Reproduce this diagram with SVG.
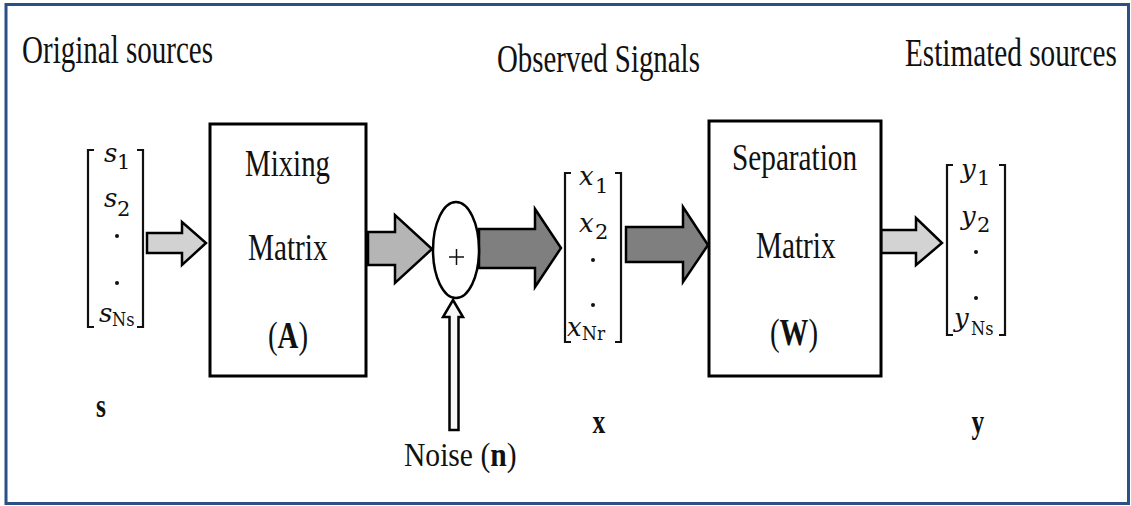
<svg xmlns="http://www.w3.org/2000/svg" width="1131" height="506" viewBox="0 0 1131 506">
<style>
.t{font-family:"Liberation Serif","Times New Roman",serif;fill:#111}
.ti{font-family:"Liberation Serif","Times New Roman",serif;fill:#111;font-size:40px}
.bx{font-family:"Liberation Serif","Times New Roman",serif;fill:#111;font-size:38px}
.bl{font-family:"Liberation Serif","Times New Roman",serif;fill:#111;font-size:34px;font-weight:bold}
.v{font-family:"DejaVu Serif",serif;font-style:italic;fill:#111;font-size:26px}
.sb{font-family:"DejaVu Serif",serif;fill:#111;font-size:21px}
.sn{font-family:"DejaVu Serif",serif;fill:#111;font-size:18px}
.box{fill:#fff;stroke:#000;stroke-width:3}
.br{fill:none;stroke:#111;stroke-width:2.2}
.ar{stroke:#000;stroke-width:2.5;stroke-linejoin:miter}
.dot{fill:#111}
</style>
<rect x="0" y="0" width="1131" height="506" fill="#fff"/>
<rect x="6" y="4.5" width="1122.5" height="499" fill="none" stroke="#2c4f86" stroke-width="3"/>

<g id="titles">
<text class="ti" transform="translate(22,63) scale(0.726,1)">Original sources</text>
<text class="ti" transform="translate(497,72) scale(0.722,1)">Observed Signals</text>
<text class="ti" transform="translate(905,66) scale(0.731,1)">Estimated sources</text>
</g>

<g id="connectors">
<polygon class="ar" fill="#d2d2d2" points="147,233 182,233 182,222 206,243 182,265 182,253 147,253"/>
<polygon class="ar" fill="#b5b5b5" points="368,232 395,232 395,215 432,249 395,283 395,265 368,265"/>
<polygon class="ar" fill="#7f7f7f" points="479,229 535,229 535,209 561,248 535,287 535,268 479,268"/>
<polygon class="ar" fill="#7f7f7f" points="626,227 683,227 683,207 708,245 683,282 683,262 626,262"/>
<polygon class="ar" fill="#d3d3d3" points="881,230 916,230 916,218 942,243 916,265 916,253 881,253"/>
<polygon class="ar" fill="#f7f7f7" stroke-width="2" points="453,300 463,317 458.5,317 458.5,430 449.5,430 449.5,317 443,317"/>
</g>

<g id="s-vector">
<path class="br" d="M94,150 H88 V327 H94 M137,150 H143 V327 H137"/>
<text class="v" x="104" y="162">s</text><text class="sb" x="117" y="169">1</text>
<text class="v" x="104" y="207">s</text><text class="sb" x="117" y="216">2</text>
<circle class="dot" cx="117" cy="236" r="2"/>
<circle class="dot" cx="117" cy="283" r="2"/>
<text class="v" x="99" y="322">s</text><text class="sn" transform="translate(112,326) scale(0.9,1)">Ns</text>
<text class="bl" transform="translate(101,417) scale(0.75,1)" text-anchor="middle">s</text>
</g>

<g id="mixing">
<rect class="box" x="210" y="124" width="156" height="252"/>
<text class="bx" transform="translate(245,176) scale(0.76,1)">Mixing</text>
<text class="bx" transform="translate(248,260) scale(0.77,1)">Matrix</text>
<text class="bx" transform="translate(268,348) scale(0.76,1)">(<tspan font-weight="bold">A</tspan>)</text>
</g>

<g id="sum">
<ellipse cx="456" cy="250" rx="23" ry="48" fill="#fff" stroke="#000" stroke-width="2.5"/>
<path d="M449,257 H464 M456.5,249 V265" stroke="#111" stroke-width="1.5" fill="none"/>
</g>

<g id="noise">
<text class="t" font-size="34" transform="translate(404,466) scale(0.87,1)">Noise (<tspan font-weight="bold">n</tspan>)</text>
</g>

<g id="x-vector">
<path class="br" d="M571,173 H565 V342 H571 M615,173 H621 V342 H615"/>
<text class="v" x="579" y="185">x</text><text class="sb" x="595" y="193">1</text>
<text class="v" x="579" y="232">x</text><text class="sb" x="595" y="239">2</text>
<circle class="dot" cx="593" cy="260" r="2"/>
<circle class="dot" cx="593" cy="305" r="2"/>
<text class="v" x="567" y="336">x</text><text class="sn" transform="translate(582,340) scale(0.95,1)">Nr</text>
<text class="bl" transform="translate(599,433) scale(0.75,1)" text-anchor="middle">x</text>
</g>

<g id="separation">
<rect class="box" x="709" y="121" width="172" height="255"/>
<text class="bx" transform="translate(732,170) scale(0.77,1)">Separation</text>
<text class="bx" transform="translate(756,258) scale(0.77,1)">Matrix</text>
<text class="bx" transform="translate(770,345) scale(0.76,1)">(<tspan font-weight="bold">W</tspan>)</text>
</g>

<g id="y-vector">
<path class="br" d="M953,165 H947 V335 H953 M999,165 H1005 V335 H999"/>
<text class="v" x="961" y="178">y</text><text class="sb" x="977" y="185">1</text>
<text class="v" x="961" y="225">y</text><text class="sb" x="977" y="232">2</text>
<circle class="dot" cx="976" cy="252" r="2"/>
<circle class="dot" cx="976" cy="298" r="2"/>
<text class="v" x="954" y="327">y</text><text class="sn" transform="translate(971,335) scale(0.9,1)">Ns</text>
<text class="bl" transform="translate(978,433) scale(0.75,1)" text-anchor="middle">y</text>
</g>
</svg>
